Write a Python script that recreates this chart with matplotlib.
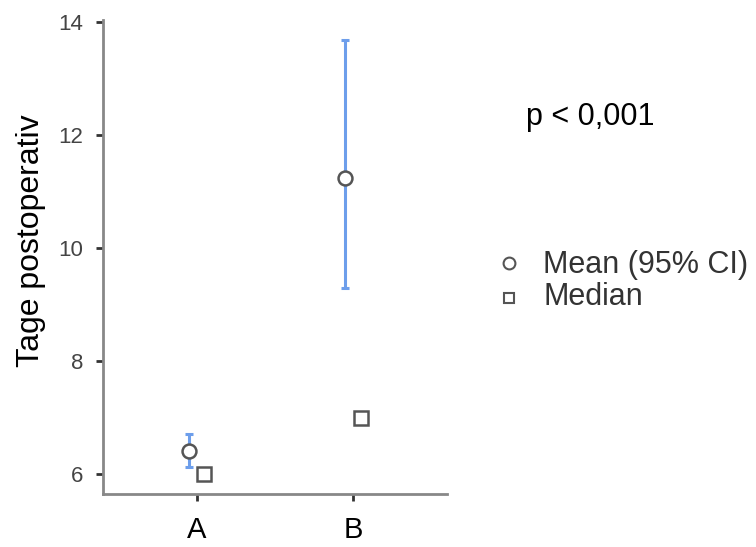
import matplotlib
matplotlib.use("Agg")
import matplotlib.pyplot as plt
from matplotlib.lines import Line2D

plt.rcParams["font.family"] = ["Liberation Sans", "DejaVu Sans"]

groups = ["A", "B"]
means = [6.41, 11.24]
ci_low = [6.12, 9.29]
ci_high = [6.71, 13.68]
medians = [6.0, 7.0]
yticks = [6, 8, 10, 12, 14]
legend_labels = ["Mean (95% CI)", "Median"]
p_text = "p < 0,001"

W, H = 756, 547
fig = plt.figure(figsize=(W / 100, H / 100), dpi=100)
ax = fig.add_axes([0.136, 0.097, 0.455, 0.866])

pos = list(range(len(groups)))
off = 0.05
mean_x = [p - off for p in pos]
med_x = [p + off for p in pos]

err_lo = [m - l for m, l in zip(means, ci_low)]
err_hi = [h - m for m, h in zip(means, ci_high)]
ax.errorbar(mean_x, means, yerr=[err_lo, err_hi], fmt="none",
            ecolor="#6d9eeb", elinewidth=2.2, capsize=3, capthick=2.2, zorder=2)
ax.plot(mean_x, means, "o", ms=10, mfc="white", mec="#555555", mew=1.8,
        ls="none", zorder=3)
ax.plot(med_x, medians, "s", ms=9.5, mfc="white", mec="#555555", mew=1.8,
        ls="none", zorder=3)

ax.set_xlim(-0.6, 1.6)
ax.set_ylim(5.65, 14.03)
ax.set_xticks(pos)
ax.set_xticklabels(groups, fontsize=21, color="black")
ax.set_yticks(yticks)
ax.set_yticklabels([str(t) for t in yticks], fontsize=16, color="#444444")
ax.set_ylabel("Tage postoperativ", fontsize=23)
ax.yaxis.set_label_coords(-0.165, 0.535)

for side in ("top", "right"):
    ax.spines[side].set_visible(False)
for side in ("left", "bottom"):
    ax.spines[side].set_color("#888888")
    ax.spines[side].set_linewidth(2)
ax.tick_params(axis="both", direction="out", length=5, width=2, color="#333333")
ax.tick_params(axis="x", pad=11)
ax.tick_params(axis="y", pad=9)

def fx(px):
    return px / W

def fy(py):
    return 1 - py / H

fig.text(fx(526), fy(125), p_text, fontsize=22, color="black", va="baseline")

# legend drawn in figure coordinates
legend_markers = ["o", "s"]
legend_sizes = [8.5, 7.5]
legend_marker_y = [263, 298]
legend_text_base = [273, 305]
for mk, ms, my, tb, lab in zip(legend_markers, legend_sizes, legend_marker_y,
                               legend_text_base, legend_labels):
    fig.add_artist(Line2D([fx(509)], [fy(my)], marker=mk, ls="none", ms=ms,
                          mfc="white", mec="#555555", mew=1.5,
                          transform=fig.transFigure))
    fig.text(fx(543), fy(tb), lab, fontsize=22, color="#333333", va="baseline")

fig.savefig("out.png", dpi=100)
